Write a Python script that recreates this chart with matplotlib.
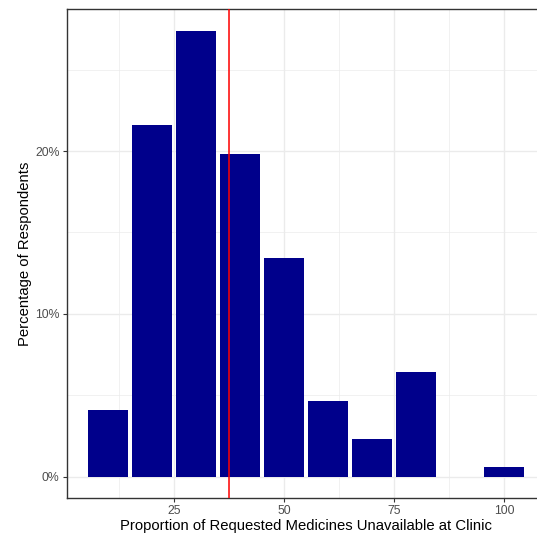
import matplotlib
matplotlib.use("Agg")
import matplotlib.pyplot as plt
from matplotlib.ticker import FixedLocator, FuncFormatter

# === Data ===
bin_centers = [10, 20, 30, 40, 50, 60, 70, 80, 100]
pct_respondents = [0.0411, 0.216, 0.2736, 0.198, 0.134, 0.0466, 0.0233, 0.0644, 0.0061]
mean_line = 37.5

x_major = [25, 50, 75, 100]
x_minor = [12.5, 37.5, 62.5, 87.5, 112.5]
y_major = [0.0, 0.1, 0.2]
y_minor = [0.05, 0.15, 0.25]

plt.rcParams["font.family"] = ["Liberation Sans", "DejaVu Sans"]

W, H = 537, 538
fig = plt.figure(figsize=(W / 100, H / 100), dpi=100)

# panel in pixels (right edge runs off the image, like the reference)
left_px, right_px, top_px, bottom_px = 66.5, 545.6, 9, 497.7
ax = fig.add_axes([
    left_px / W,
    (H - bottom_px) / H,
    (right_px - left_px) / W,
    (bottom_px - top_px) / H,
])

ax.bar(bin_centers, pct_respondents, width=9, color="#00008B", zorder=2)
ax.axvline(mean_line, color="#FF0000", linewidth=1.1, zorder=3)

ax.set_xlim(0.55, 109.45)
ax.set_ylim(-0.0129, 0.2872)

ax.xaxis.set_major_locator(FixedLocator(x_major))
ax.xaxis.set_minor_locator(FixedLocator(x_minor))
ax.yaxis.set_major_locator(FixedLocator(y_major))
ax.yaxis.set_minor_locator(FixedLocator(y_minor))
ax.yaxis.set_major_formatter(FuncFormatter(lambda v, p: f"{v*100:.0f}%"))

ax.grid(which="major", color="#EBEBEB", linewidth=1.0, zorder=0)
ax.grid(which="minor", color="#EBEBEB", linewidth=0.5, zorder=0)
ax.set_axisbelow(True)

for s in ax.spines.values():
    s.set_color("#333333")
    s.set_linewidth(1.0)

ax.tick_params(which="major", length=3, width=0.8, color="#333333",
               labelcolor="#4D4D4D", labelsize=8.8, pad=2)
ax.tick_params(which="minor", length=0)

ax.set_xlabel("Proportion of Requested Medicines Unavailable at Clinic",
              fontsize=10.7, color="black", labelpad=2)
ax.set_ylabel("Percentage of Respondents", fontsize=10.7, color="black", labelpad=2)

fig.savefig("out.png", dpi=100)
